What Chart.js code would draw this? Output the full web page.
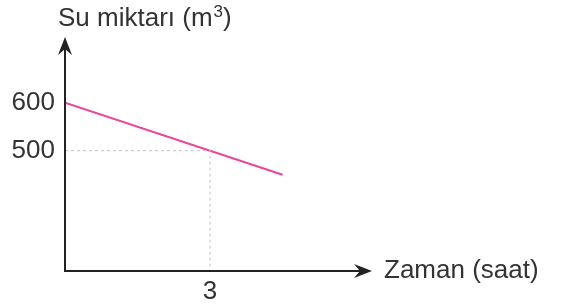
<!DOCTYPE html>
<html>
<head>
<meta charset="utf-8">
<script src="https://cdn.jsdelivr.net/npm/chart.js@4"></script>
<style>
html,body{margin:0;padding:0;background:#fff;}
#wrap{width:564px;height:304px;position:relative;}
</style>
</head>
<body>
<div id="wrap"><canvas id="c" width="564" height="304"></canvas></div>
<script>
// Data
const lineX = [0, 4.5];
const lineY = [600, 450];
const guideX = [0, 3, 3];
const guideY = [500, 500, null]; // last point drops to axis (filled with axis min)
const yTicks = [500, 600];
const xTicks = [3];
const yTitle = "Su miktarı (m";
const yTitleSup = "3";
const xTitle = "Zaman (saat)";

const Y_MIN = 249.4, Y_MAX = 736.9;
const X_MIN = 0, X_MAX = 6.35;

const FONT = '"Liberation Sans", Arial, Helvetica, sans-serif';
const AXIS_COLOR = '#222';
const TEXT_COLOR = '#333';

const lineData = lineX.map((x, i) => ({x, y: lineY[i]}));
const guideData = guideX.map((x, i) => ({x, y: guideY[i] === null ? Y_MIN : guideY[i]}));

function arrowHead(ctx, tx, ty, dir) {
  const L = 18, W = 7, notch = 6;
  ctx.beginPath();
  if (dir === 'up') {
    ctx.moveTo(tx, ty);
    ctx.lineTo(tx + W, ty + L);
    ctx.lineTo(tx, ty + L - notch);
    ctx.lineTo(tx - W, ty + L);
  } else {
    ctx.moveTo(tx, ty);
    ctx.lineTo(tx - L, ty - W);
    ctx.lineTo(tx - L + notch, ty);
    ctx.lineTo(tx - L, ty + W);
  }
  ctx.closePath();
  ctx.fill();
}

const axesPlugin = {
  id: 'axesArrows',
  afterDatasetsDraw(chart) {
    const ctx = chart.ctx;
    const xs = chart.scales.x, ys = chart.scales.y;
    const ox = xs.getPixelForValue(X_MIN);
    const oy = ys.getPixelForValue(Y_MIN);
    const topY = ys.getPixelForValue(Y_MAX);
    const rightX = xs.getPixelForValue(X_MAX);
    ctx.save();
    ctx.strokeStyle = AXIS_COLOR;
    ctx.fillStyle = AXIS_COLOR;
    ctx.lineWidth = 2;
    ctx.beginPath();
    ctx.moveTo(ox, topY + 10);
    ctx.lineTo(ox, oy);
    ctx.lineTo(rightX - 10, oy);
    ctx.stroke();
    arrowHead(ctx, ox, topY, 'up');
    arrowHead(ctx, rightX, oy, 'right');

    // titles
    ctx.fillStyle = TEXT_COLOR;
    ctx.textBaseline = 'alphabetic';
    ctx.textAlign = 'left';
    ctx.font = '26px ' + FONT;
    let tx = 58;
    ctx.fillText(yTitle, tx, 26);
    tx += ctx.measureText(yTitle).width;
    ctx.font = '17px ' + FONT;
    ctx.fillText(yTitleSup, tx + 1, 17);
    tx += ctx.measureText(yTitleSup).width + 1;
    ctx.font = '26px ' + FONT;
    ctx.fillText(')', tx, 26);

    ctx.fillText(xTitle, rightX + 12, 278);
    ctx.restore();
  }
};

new Chart(document.getElementById('c'), {
  type: 'scatter',
  data: {
    datasets: [
      {
        data: guideData,
        showLine: true,
        borderColor: '#c4c4c4',
        borderWidth: 1,
        borderDash: [3, 3],
        pointRadius: 0,
        fill: false
      },
      {
        data: lineData,
        showLine: true,
        borderColor: '#e8479a',
        borderWidth: 2,
        pointRadius: 0,
        fill: false
      }
    ]
  },
  options: {
    responsive: false,
    animation: false,
    events: [],
    layout: { padding: { top: 37, right: 192, left: 0, bottom: 0 } },
    plugins: { legend: { display: false }, tooltip: { enabled: false }, title: { display: false } },
    scales: {
      x: {
        type: 'linear',
        min: X_MIN, max: X_MAX,
        afterBuildTicks(s) { s.ticks = xTicks.map(v => ({value: v})); },
        afterFit(s) { s.height = 33; },
        grid: { display: false, drawTicks: false },
        border: { display: false },
        ticks: { color: TEXT_COLOR, font: { family: FONT, size: 26 }, padding: 5, maxRotation: 0, autoSkip: false }
      },
      y: {
        type: 'linear',
        min: Y_MIN, max: Y_MAX,
        afterBuildTicks(s) { s.ticks = yTicks.map(v => ({value: v})); },
        afterFit(s) { s.width = 65; },
        grid: { display: false, drawTicks: false },
        border: { display: false },
        ticks: { color: TEXT_COLOR, font: { family: FONT, size: 26 }, padding: 10, autoSkip: false }
      }
    }
  },
  plugins: [axesPlugin]
});
</script>
</body>
</html>
